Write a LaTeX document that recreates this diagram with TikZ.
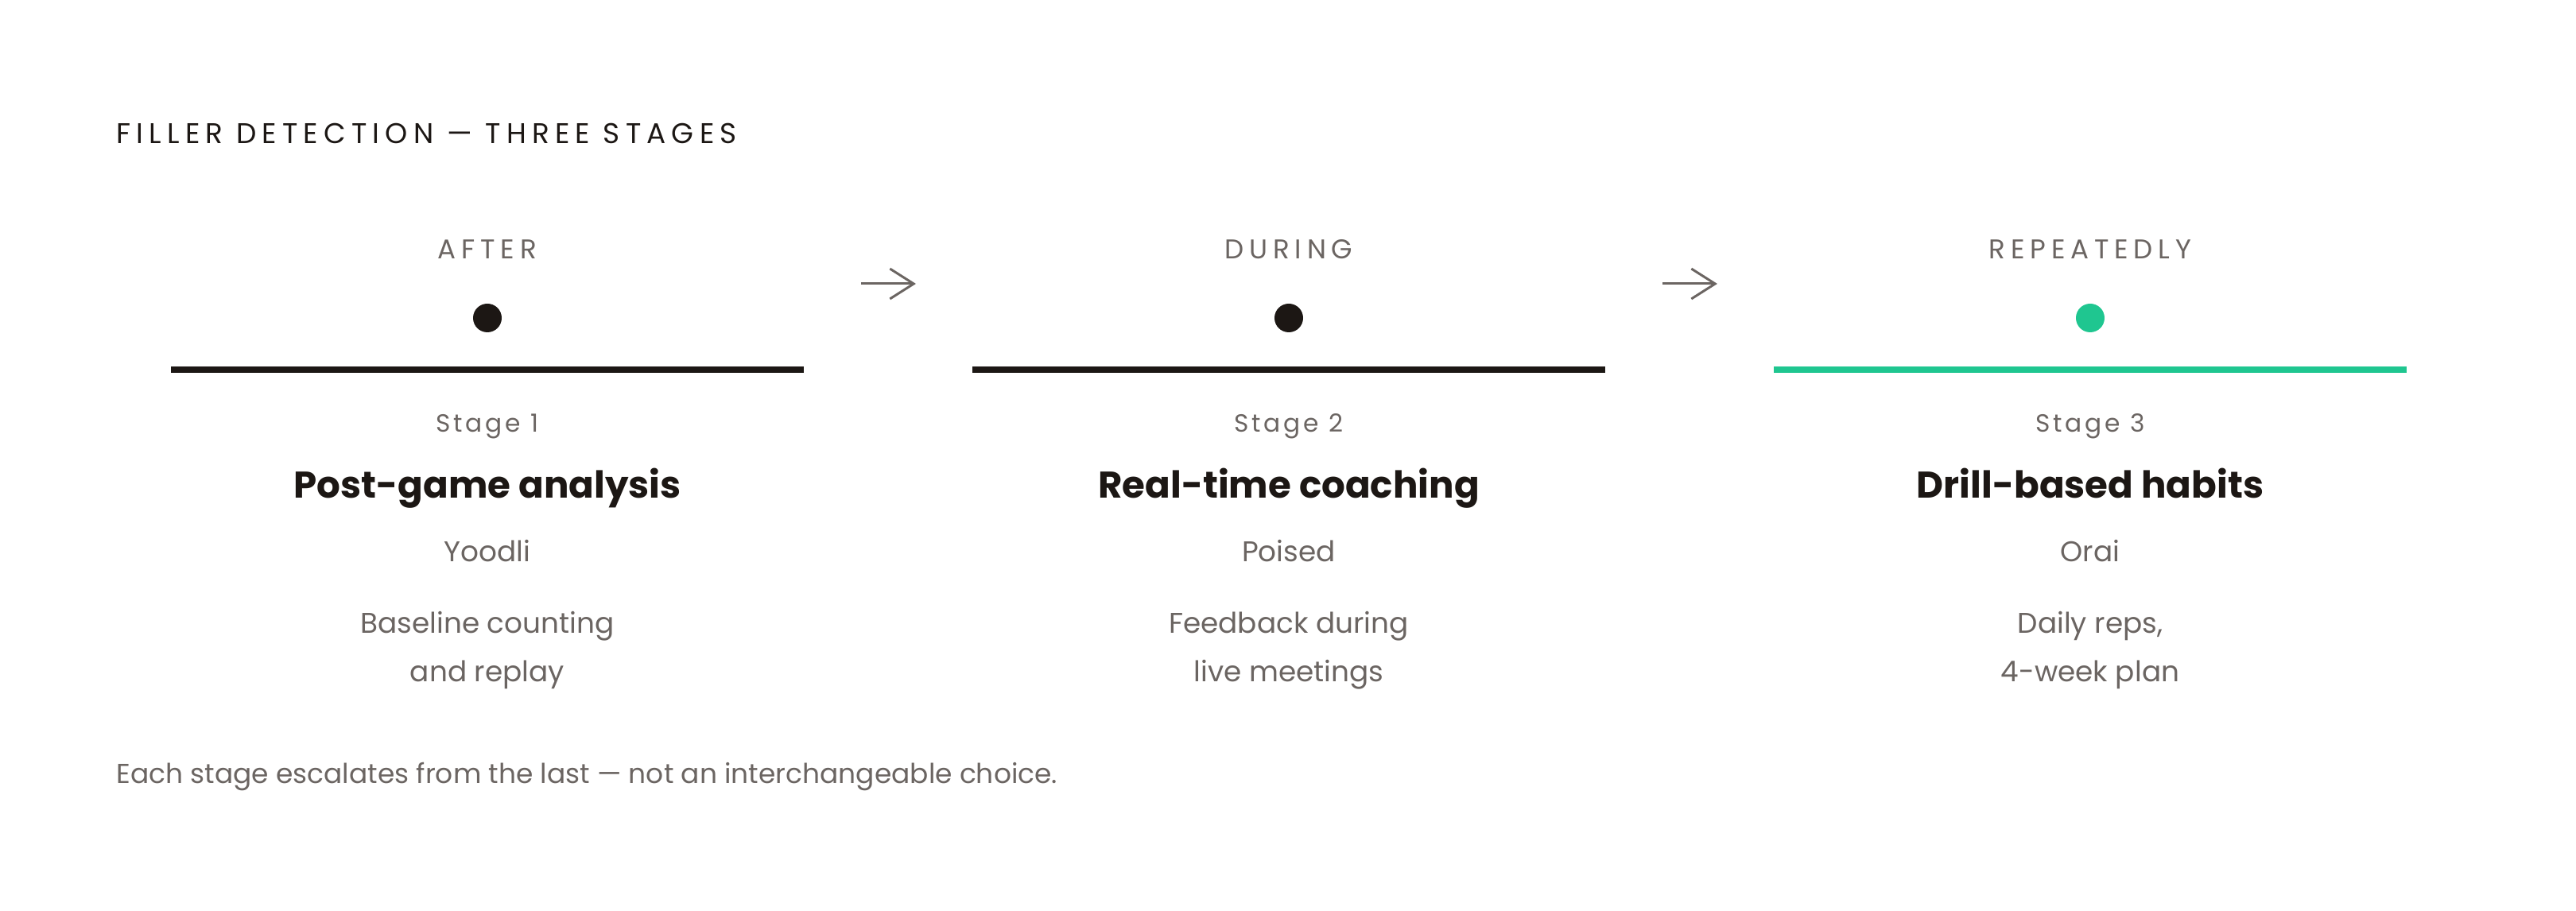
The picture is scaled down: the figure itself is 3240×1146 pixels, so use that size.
\documentclass[tikz,border=0pt]{standalone}
\usepackage{fontspec}
\setmainfont{Poppins}
\newfontfamily\capsfont[LetterSpace=20]{Poppins}
\newfontfamily\stagefont[LetterSpace=12]{Poppins}
\usetikzlibrary{positioning,arrows.meta}
\definecolor{ink}{HTML}{1C1714}
\definecolor{muted}{HTML}{6B6562}
\definecolor{accent}{HTML}{1FC690}
\tikzset{kicker/.style={anchor=base,inner sep=0pt,text=muted,font=\capsfont\fontsize{9.7}{11}\selectfont},
  toptitle/.style={anchor=base west,inner sep=0pt,text=ink,font=\capsfont\fontsize{10.2}{12}\selectfont},
  stagelab/.style={anchor=base,inner sep=0pt,text=muted,font=\stagefont\fontsize{8.9}{10}\selectfont},
  headline/.style={anchor=base,inner sep=0pt,text=ink,font=\bfseries\fontsize{13.3}{16}\selectfont},
  body/.style={anchor=base,inner sep=0pt,text=muted,font=\fontsize{10.2}{12}\selectfont},
  footnote/.style={anchor=base west,inner sep=0pt,text=muted,font=\fontsize{9.8}{11}\selectfont},
  dot/.style={circle,minimum size=3.6mm,inner sep=0pt,outer sep=0pt},
  rule/.style={line width=0.8mm,line cap=butt}}
\tikzstyle{flow} = [line width=0.3mm,muted,-{Straight Barb[length=8.5pt,width=10.8pt]}]

\begin{document}
\begin{tikzpicture}[x=0.1mm,y=-0.1mm]
	\useasboundingbox (0,0) rectangle (3240,1146);
	\node[toptitle] (title) at (146,181) {FILLER DETECTION — THREE STAGES};
	\foreach \lab/\head/\tool/\da/\db/\col[count=\i from 0,evaluate=\i as\j using int(\i+1)] in {
			AFTER/Post-game analysis/Yoodli/Baseline counting/and replay/ink,
			DURING/Real-time coaching/Poised/Feedback during/live meetings/ink,
			REPEATEDLY/Drill-based habits/Orai/{Daily reps,}/4-week plan/accent}
	{
		\pgfmathsetmacro\cx{613+1008*\i}
		\node[kicker] (when\j) at (\cx,326) {\lab};
		\node[dot,fill=\col] (dot\j) at (\cx,400) {};
		\draw[rule,\col] (\cx-398,465) -- (\cx+398,465);
		\node[stagelab] (stage\j) at (\cx,544) {Stage \j};
		\node[headline] (head\j) at (\cx,627) {\head};
		\node[body] (tool\j) at (\cx,707) {\tool};
		\node[body] (desca\j) at (\cx,797) {\da};
		\node[body] (descb\j) at (\cx,858) {\db};
		\ifnum\i<2
			\coordinate (from\j) at (\cx+470,357);
			\coordinate (to\j) at (\cx+539,357);
			\draw[flow] (from\j) -- (to\j);
		\fi
	}
	\node[footnote] (note) at (146,986) {Each stage escalates from the last — not an interchangeable choice.};
\end{tikzpicture}
\end{document}
